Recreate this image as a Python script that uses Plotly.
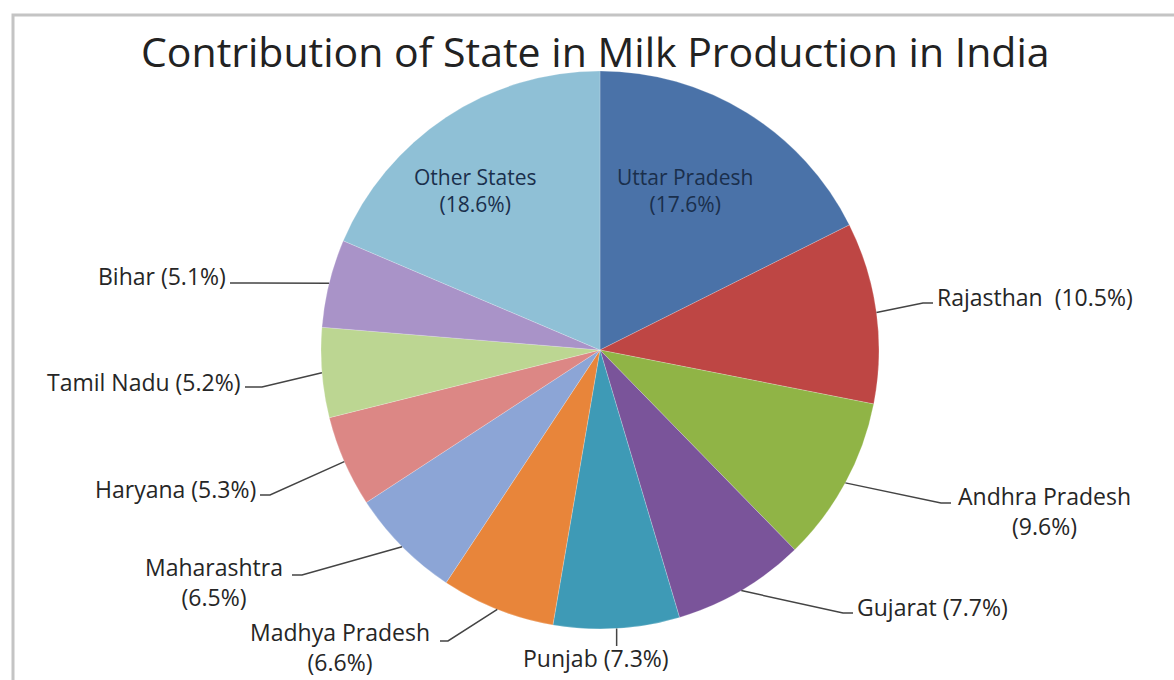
import numpy as np
import plotly.graph_objects as go

# ---- data ----
states = ["Uttar Pradesh", "Rajasthan", "Andhra Pradesh", "Gujarat", "Punjab",
          "Madhya Pradesh", "Maharashtra", "Haryana", "Tamil Nadu", "Bihar", "Other States"]
shares = [17.6, 10.5, 9.6, 7.7, 7.3, 6.6, 6.5, 5.3, 5.2, 5.1, 18.6]
colors = ["#4A72A8", "#BE4644", "#90B446", "#7A549A", "#3E9AB6", "#E8853A",
          "#8CA5D6", "#DC8785", "#BCD692", "#A993C8", "#8FC0D6"]
title_text = "Contribution of State in Milk Production in India"

# ---- layout geometry (pixels) ----
W, H = 1174, 680
CX, CY, R = 600, 350, 279

def px(x):
    return x / W

def py(y):
    return 1 - y / H

# label placement: text position, anchor, two-line?, line end, elbow
label_style = {
    "Rajasthan":      dict(tx=935, ty=297, xa="left",   split=False, end=(933, 303), elbow=(923, 303), sep="  "),
    "Andhra Pradesh": dict(tx=1044, ty=511, xa="center", split=True, end=(951, 503), elbow=(941, 503)),
    "Gujarat":        dict(tx=855, ty=607, xa="left",   split=False, end=(853, 613), elbow=(843, 613)),
    "Punjab":         dict(tx=596, ty=658, xa="center", split=False, end=None, elbow=None, vline=646),
    "Madhya Pradesh": dict(tx=340, ty=647, xa="center", split=True, end=(440, 641), elbow=(448, 641)),
    "Maharashtra":    dict(tx=214, ty=582, xa="center", split=True, end=(292, 575), elbow=(302, 575)),
    "Haryana":        dict(tx=258, ty=489, xa="right",  split=False, end=(260, 495), elbow=(270, 495)),
    "Tamil Nadu":     dict(tx=243, ty=382, xa="right",  split=False, end=(245, 387), elbow=(262, 387)),
    "Bihar":          dict(tx=228, ty=276, xa="right",  split=False, end=(230, 283), elbow=(240, 283)),
}
inside_style = {
    "Uttar Pradesh": (685, 190),
    "Other States": (475, 190),
}

fig = go.Figure()
fig.add_trace(go.Pie(
    labels=states, values=shares, sort=False, direction="clockwise", rotation=0,
    marker=dict(colors=colors, line=dict(color="rgba(255,255,255,0.35)", width=0.6)),
    textinfo="none", showlegend=False, hoverinfo="label+percent",
    domain=dict(x=[px(CX - R), px(CX + R)], y=[py(CY + R), py(CY - R)]),
))

vals = np.array(shares, dtype=float)
mid = (np.cumsum(vals) - vals / 2) / vals.sum() * 2 * np.pi
edge_x = CX + R * np.sin(mid)
edge_y = CY - R * np.cos(mid)

font_lbl = dict(family="Open Sans", size=23, color="#262626")
annotations = []
shapes = []
for i, s in enumerate(states):
    pct = f"({shares[i]}%)"
    if s in label_style:
        st = label_style[s]
        txt = f"{s}<br>{pct}" if st["split"] else f"{s}{st.get('sep', ' ')}{pct}"
        annotations.append(dict(x=px(st["tx"]), y=py(st["ty"]), xref="paper", yref="paper",
                                text=txt, showarrow=False, xanchor=st["xa"], yanchor="middle",
                                align="center", font=font_lbl))
        ex, ey = edge_x[i], edge_y[i]
        if st["end"] is None:
            path = f"M {px(ex)} {py(ey)} L {px(ex)} {py(st['vline'])}"
        else:
            (lx, ly), (bx, by) = st["end"], st["elbow"]
            path = f"M {px(ex)} {py(ey)} L {px(bx)} {py(by)} L {px(lx)} {py(ly)}"
        shapes.append(dict(type="path", path=path, xref="paper", yref="paper",
                           line=dict(color="#444444", width=1.5)))
    else:
        x, y = inside_style[s]
        annotations.append(dict(x=px(x), y=py(y), xref="paper", yref="paper",
                                text=f"{s}<br>{pct}", showarrow=False, xanchor="center",
                                yanchor="middle", align="center",
                                font=dict(family="Open Sans", size=21, color="#1A2F4C")))

annotations.append(dict(x=px(595), y=py(51), xref="paper", yref="paper", text=title_text,
                        showarrow=False, xanchor="center", yanchor="middle",
                        font=dict(family="Open Sans", size=41, color="#222222")))

# outer frame
shapes.append(dict(type="rect", xref="paper", yref="paper", x0=px(13), x1=1.05, y0=-0.05, y1=py(15),
                   line=dict(color="#C4C4C4", width=3), fillcolor="rgba(0,0,0,0)"))

fig.update_layout(
    width=W, height=H, margin=dict(l=0, r=0, t=0, b=0),
    paper_bgcolor="white", plot_bgcolor="white",
    annotations=annotations, shapes=shapes,
)
fig.write_html("out.html", config={"displayModeBar": False},
               post_script="document.body.style.margin='0px';")
